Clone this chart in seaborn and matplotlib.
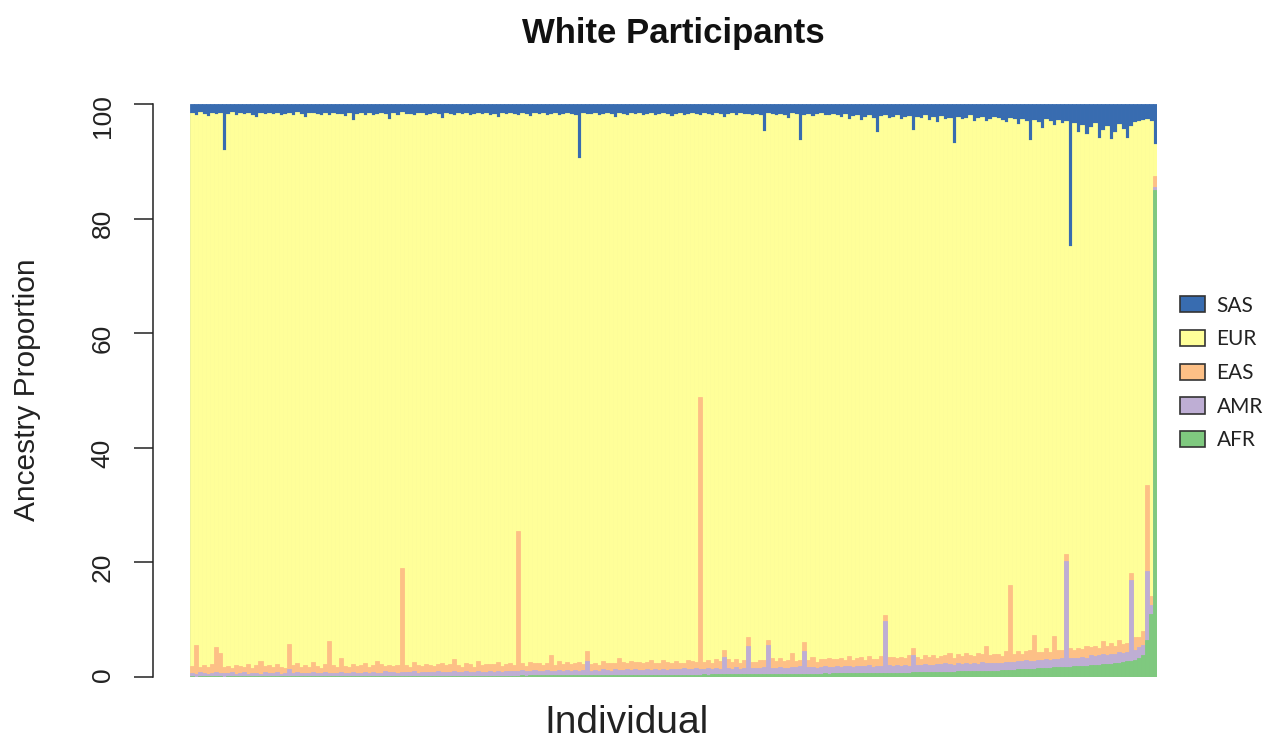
import numpy as np
import pandas as pd
import matplotlib
matplotlib.use("Agg")
import matplotlib.pyplot as plt
from matplotlib.patches import Patch
import seaborn as sns

# Per-individual ancestry percentages (individuals sorted by AFR share).
# EUR is the remainder so every column sums to 100.
afr = [
    0.10, 0.08, 0.12, 0.10, 0.09, 0.11, 0.10, 0.12, 0.08, 0.10, 0.11, 0.09, 0.10, 0.12, 0.10, 0.09, 0.11, 0.10, 0.12, 0.10,
    0.11, 0.12, 0.10, 0.13, 0.12, 0.11, 0.13, 0.12, 0.14, 0.12, 0.13, 0.12, 0.14, 0.13, 0.15, 0.13, 0.14, 0.15, 0.14, 0.15,
    0.16, 0.15, 0.17, 0.16, 0.18, 0.16, 0.17, 0.18, 0.17, 0.19, 0.18, 0.17, 0.19, 0.18, 0.20, 0.19, 0.18, 0.20, 0.19, 0.21,
    0.20, 0.21, 0.20, 0.22, 0.21, 0.22, 0.21, 0.23, 0.22, 0.23, 0.22, 0.24, 0.23, 0.24, 0.23, 0.25, 0.24, 0.25, 0.24, 0.26,
    0.25, 0.26, 0.27, 0.26, 0.27, 0.28, 0.27, 0.28, 0.29, 0.28, 0.29, 0.30, 0.29, 0.30, 0.31, 0.30, 0.31, 0.32, 0.31, 0.32,
    0.33, 0.32, 0.33, 0.34, 0.33, 0.35, 0.34, 0.35, 0.36, 0.35, 0.36, 0.37, 0.36, 0.38, 0.37, 0.38, 0.39, 0.38, 0.40, 0.39,
    0.40, 0.41, 0.40, 0.42, 0.41, 0.43, 0.42, 0.44, 0.43, 0.45, 0.44, 0.46, 0.45, 0.47, 0.46, 0.48, 0.47, 0.49, 0.48, 0.50,
    0.50, 0.51, 0.52, 0.51, 0.53, 0.54, 0.53, 0.55, 0.56, 0.55, 0.57, 0.58, 0.57, 0.59, 0.60, 0.59, 0.61, 0.62, 0.61, 0.63,
    0.64, 0.65, 0.64, 0.66, 0.67, 0.68, 0.67, 0.69, 0.70, 0.71, 0.70, 0.72, 0.73, 0.74, 0.75, 0.74, 0.76, 0.77, 0.78, 0.79,
    0.80, 0.82, 0.83, 0.85, 0.86, 0.88, 0.90, 0.91, 0.93, 0.95, 0.96, 0.98, 1.00, 1.01, 1.03, 1.05, 1.06, 1.08, 1.09, 1.10,
    1.12, 1.15, 1.17, 1.23, 1.25, 1.31, 1.33, 1.39, 1.41, 1.47, 1.49, 1.55, 1.58, 1.61, 1.67, 1.69, 1.75, 1.77, 1.83, 1.86,
    1.90, 1.96, 2.00, 2.06, 2.10, 2.17, 2.22, 2.29, 2.35, 2.43, 2.50, 2.61, 2.72, 2.87, 3.05, 3.36, 3.90, 6.50, 11.0, 85.0,
]
amr = [
    0.6, 0.5, 0.7, 0.6, 0.5, 0.6, 0.7, 0.5, 0.6, 0.6, 0.7, 0.5, 0.6, 0.7, 0.5, 0.6, 0.6, 0.5, 0.7, 0.6,
    0.6, 0.7, 0.5, 0.6, 1.2, 0.6, 0.7, 0.5, 0.6, 0.6, 0.7, 0.6, 0.5, 0.7, 0.6, 0.6, 0.5, 0.7, 0.6, 0.6,
    0.7, 0.6, 0.6, 0.7, 0.5, 0.7, 0.6, 0.6, 0.8, 0.6, 0.7, 0.6, 0.6, 0.7, 0.6, 0.8, 0.6, 0.7, 0.6, 0.7,
    0.7, 0.8, 0.6, 0.7, 0.7, 0.8, 0.6, 0.7, 0.8, 0.7, 0.6, 0.8, 0.7, 0.7, 0.9, 0.7, 0.8, 0.7, 0.8, 0.7,
    0.8, 0.8, 0.9, 0.7, 0.8, 0.9, 0.8, 0.7, 0.9, 0.8, 0.8, 0.9, 0.8, 1.0, 0.8, 0.9, 0.8, 0.9, 2.5, 0.8,
    0.9, 0.8, 1.0, 0.9, 0.8, 1.0, 0.9, 0.9, 1.1, 0.9, 1.0, 0.8, 0.9, 1.0, 0.9, 1.1, 0.9, 1.0, 0.9, 1.0,
    1.0, 0.9, 1.1, 1.0, 1.0, 1.1, 0.9, 1.0, 1.1, 1.0, 1.2, 1.0, 3.0, 1.1, 1.0, 1.2, 1.0, 1.1, 5.0, 1.0,
    1.1, 1.0, 1.2, 5.0, 1.1, 1.0, 1.2, 1.1, 1.0, 1.2, 1.1, 1.3, 4.0, 1.1, 1.2, 1.0, 1.1, 1.3, 1.1, 1.2,
    1.2, 1.1, 1.3, 1.2, 1.1, 1.3, 1.2, 1.2, 1.4, 1.1, 1.3, 1.2, 9.0, 1.3, 1.2, 1.4, 1.2, 1.3, 1.2, 3.0,
    1.3, 1.2, 1.4, 1.3, 1.2, 1.4, 1.3, 1.5, 1.3, 1.2, 1.4, 1.3, 1.5, 1.3, 1.4, 1.2, 1.5, 1.3, 1.4, 1.3,
    1.4, 1.3, 1.5, 1.4, 1.3, 1.5, 1.4, 1.6, 1.4, 1.3, 1.5, 1.4, 1.6, 1.4, 1.5, 1.4, 1.6, 18.5, 1.5, 1.4,
    1.5, 1.6, 1.4, 1.7, 1.5, 1.6, 1.8, 1.5, 1.7, 1.6, 1.8, 1.5, 1.7, 14.0, 1.6, 1.8, 1.7, 12.0, 1.5, 0.5,
]
eas = [
    1.2, 5.0, 0.9, 1.4, 1.1, 1.6, 4.5, 3.5, 1.0, 1.3, 0.8, 1.5, 1.2, 1.0, 1.7, 0.9, 1.3, 2.2, 1.1, 1.4,
    1.0, 1.5, 1.2, 0.9, 4.5, 1.3, 1.6, 1.1, 1.4, 1.0, 1.8, 1.2, 0.9, 1.5, 5.5, 1.3, 1.1, 2.5, 1.2, 1.0,
    1.4, 1.1, 1.3, 1.6, 1.0, 1.2, 2.0, 1.5, 0.9, 1.3, 1.1, 1.4, 18.3, 1.2, 1.0, 1.6, 1.3, 1.1, 1.5, 1.2,
    1.0, 1.3, 1.6, 1.1, 1.4, 2.1, 1.2, 0.9, 1.5, 1.3, 1.0, 1.7, 1.2, 1.4, 1.1, 1.3, 1.6, 1.0, 1.2, 1.4,
    1.1, 24.5, 1.3, 1.0, 1.5, 1.2, 1.4, 1.1, 1.3, 2.8, 1.0, 1.6, 1.2, 1.4, 1.1, 1.3, 1.5, 1.0, 1.8, 1.2,
    1.3, 1.0, 1.5, 1.2, 1.4, 1.1, 2.0, 1.3, 1.0, 1.6, 1.2, 1.4, 1.1, 1.3, 1.7, 1.0, 1.2, 1.5, 1.3, 1.1,
    1.4, 1.2, 1.0, 1.6, 1.3, 1.1, 47.5, 1.2, 1.4, 1.0, 1.5, 1.3, 1.2, 1.6, 1.1, 1.4, 1.0, 1.3, 1.5, 1.2,
    1.1, 1.4, 1.2, 1.0, 1.6, 1.3, 1.5, 1.1, 1.4, 2.5, 1.2, 1.0, 1.5, 1.3, 1.7, 1.1, 1.4, 1.2, 1.6, 1.3,
    1.3, 1.5, 1.1, 1.8, 1.2, 1.4, 1.6, 1.0, 1.5, 1.3, 1.2, 1.7, 1.1, 1.4, 1.6, 1.2, 1.5, 1.3, 1.9, 1.2,
    1.4, 1.2, 1.6, 1.3, 1.8, 1.1, 1.5, 1.4, 2.0, 1.2, 1.6, 1.3, 1.7, 1.5, 1.2, 1.9, 1.4, 3.0, 1.3, 1.6,
    1.5, 1.3, 1.8, 13.5, 1.4, 1.7, 1.2, 1.6, 1.9, 4.5, 1.3, 1.5, 1.8, 1.4, 4.0, 1.6, 1.3, 1.2, 1.7, 1.5,
    1.7, 1.4, 2.0, 1.5, 1.8, 1.3, 2.2, 1.6, 1.9, 1.4, 2.1, 1.7, 1.5, 1.2, 2.3, 1.8, 2.5, 15.0, 1.6, 2.0,
]
sas = [
    1.6, 1.9, 1.4, 1.7, 2.1, 1.5, 1.8, 1.6, 8.0, 1.7, 1.4, 2.0, 1.6, 1.8, 1.5, 1.9, 2.2, 1.6, 1.7, 1.5,
    1.8, 1.5, 2.0, 1.7, 1.6, 1.9, 1.4, 1.8, 2.3, 1.6, 1.5, 1.7, 2.0, 1.6, 1.9, 1.5, 1.8, 1.7, 2.1, 1.6,
    2.8, 1.7, 1.5, 1.9, 1.6, 2.0, 1.8, 1.5, 1.7, 2.6, 1.6, 1.9, 1.4, 1.8, 1.7, 2.0, 1.5, 1.6, 1.9, 1.7,
    1.6, 1.8, 2.4, 1.5, 1.7, 1.9, 1.6, 1.8, 1.5, 2.0, 1.7, 1.6, 1.8, 1.5, 1.9, 1.7, 2.2, 1.6, 1.8, 1.5,
    1.7, 1.9, 1.6, 1.8, 2.1, 1.5, 1.7, 1.6, 1.9, 1.8, 1.5, 2.0, 1.7, 1.6, 1.8, 1.9, 9.5, 1.6, 1.7, 1.8,
    1.6, 1.9, 1.7, 1.5, 1.8, 2.2, 1.6, 1.7, 1.9, 1.5, 1.8, 1.6, 2.0, 1.7, 1.5, 1.9, 1.8, 1.6, 1.7, 2.1,
    1.8, 1.6, 1.9, 1.7, 1.5, 1.8, 2.0, 1.6, 1.7, 1.9, 1.6, 1.8, 2.3, 1.7, 1.5, 1.9, 1.6, 1.8, 1.7, 2.0,
    1.7, 1.9, 4.7, 1.6, 1.8, 2.0, 1.7, 1.9, 2.4, 1.6, 1.8, 6.3, 1.9, 1.7, 2.1, 1.8, 1.6, 2.0, 1.9, 1.7,
    2.0, 2.3, 1.8, 2.6, 2.1, 1.9, 2.8, 2.2, 2.0, 2.4, 4.9, 2.1, 1.9, 2.5, 2.2, 2.0, 2.7, 2.3, 2.1, 4.5,
    2.2, 2.5, 2.0, 2.8, 2.3, 3.1, 2.1, 2.6, 2.4, 6.8, 2.2, 2.7, 2.5, 2.0, 2.9, 2.4, 2.2, 3.0, 2.6, 2.3,
    2.5, 2.8, 3.2, 2.4, 2.7, 3.5, 2.6, 2.9, 6.3, 2.8, 3.1, 4.2, 2.7, 3.0, 3.6, 2.8, 3.3, 2.9, 24.8, 3.4,
    4.8, 3.6, 5.2, 4.1, 3.3, 6.0, 4.5, 3.8, 6.1, 4.9, 3.5, 4.4, 5.9, 3.9, 3.2, 3.0, 2.8, 2.6, 3.0, 7.0,
]

ancestries = ["SAS", "EUR", "EAS", "AMR", "AFR"]          # legend order, top to bottom
palette = {"SAS": "#386CB0", "EUR": "#FFFF99", "EAS": "#FDC086",
           "AMR": "#BEAED4", "AFR": "#7FC97F"}
y_ticks = [0, 20, 40, 60, 80, 100]

df = pd.DataFrame({"individual": np.arange(len(afr)),
                   "AFR": afr, "AMR": amr, "EAS": eas, "SAS": sas})
df["EUR"] = 100 - df[["AFR", "AMR", "EAS", "SAS"]].sum(axis=1)

stack = ["AFR", "AMR", "EAS", "EUR", "SAS"]                 # bottom to top
cum = df[stack].cumsum(axis=1)

sns.set_theme(style="white")
plt.rcParams["font.family"] = ["Liberation Sans", "DejaVu Sans"]

W, H = 1286, 748
fig = plt.figure(figsize=(W / 100, H / 100), dpi=100)
ax = fig.add_axes([190 / W, 1 - 677 / H, 967 / W, 573 / H])

# Stacked columns: draw cumulative totals from the top layer down
for name in reversed(stack):
    sns.barplot(x=df["individual"], y=cum[name], color=palette[name],
                saturation=1, width=1.0, linewidth=0.6,
                edgecolor=palette[name], errorbar=None, ax=ax)

ax.set_xlim(-0.5, len(df) - 0.5)
ax.set_ylim(0, 100)
ax.set_xticks([])
ax.set_xlabel("")
ax.set_ylabel("")
ax.set_yticks(y_ticks)
ax.tick_params(axis="y", which="major", direction="out", length=13.7,
               width=1.1, pad=13.5, color="#222222", labelcolor="#222222",
               labelsize=19, labelrotation=90, left=True, labelleft=True)
for lbl in ax.get_yticklabels():
    lbl.set_verticalalignment("center")
    lbl.set_horizontalalignment("right")
sns.despine(ax=ax, bottom=True, offset={"left": 27})
ax.spines["left"].set_bounds(0, 100)
ax.spines["left"].set_color("#222222")
ax.spines["left"].set_linewidth(1.1)

fig.text(673 / W, 1 - 33 / H, "White Participants", ha="center", va="center",
         fontsize=25, fontweight="bold", color="#111111")
fig.text(626 / W, 1 - 723 / H, "Individual", ha="center", va="center",
         fontsize=28, color="#222222")
fig.text(27 / W, 1 - 390 / H, "Ancestry Proportion", ha="center", va="center",
         rotation=90, fontsize=21.5, color="#222222")

handles = [Patch(facecolor=palette[k], edgecolor="#333333", linewidth=1.2)
           for k in ancestries]
fig.legend(handles, ancestries, loc="center left",
           bbox_to_anchor=(1180 / W, 1 - 373 / H), frameon=False,
           prop={"family": "Lato", "size": 15}, handlelength=1.2,
           handleheight=0.82, handletextpad=0.55, labelspacing=0.66,
           borderpad=0, borderaxespad=0, labelcolor="#222222")

fig.savefig("out.png", dpi=100)
